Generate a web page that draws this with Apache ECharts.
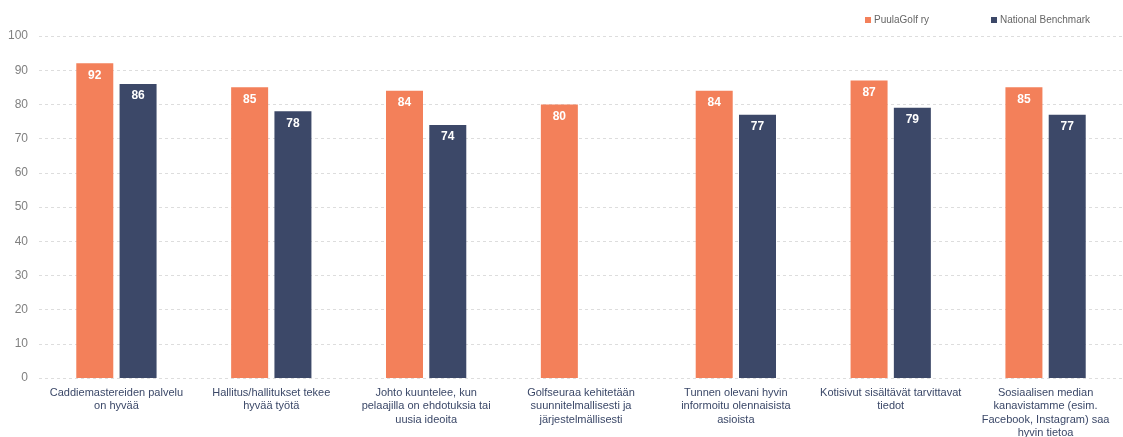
<!DOCTYPE html>
<html>
<head>
<meta charset="utf-8">
<script src="https://cdn.jsdelivr.net/npm/echarts@6/dist/echarts.min.js"></script>
<style>
html,body{margin:0;padding:0;background:#fff;}
#c{width:1123px;height:437px;}
</style>
</head>
<body>
<div id="c"></div>
<script>
const categories = [
  "Caddiemastereiden palvelu\non hyvää",
  "Hallitus/hallitukset tekee\nhyvää työtä",
  "Johto kuuntelee, kun\npelaajilla on ehdotuksia tai\nuusia ideoita",
  "Golfseuraa kehitetään\nsuunnitelmallisesti ja\njärjestelmällisesti",
  "Tunnen olevani hyvin\ninformoitu olennaisista\nasioista",
  "Kotisivut sisältävät tarvittavat\ntiedot",
  "Sosiaalisen median\nkanavistamme (esim.\nFacebook, Instagram) saa\nhyvin tietoa"
];
const puulaGolf = [92, 85, 84, 80, 84, 87, 85];
const benchmark = [86, 78, 74, null, 77, 79, 77];
const seriesNames = ["PuulaGolf ry", "National Benchmark"];
const yTicks = [0, 100, 10];

const chart = echarts.init(document.getElementById('c'), null, {renderer: 'canvas'});
const labelCfg = {
  show: true, position: 'insideTop', distance: 6,
  color: '#ffffff', fontWeight: 'bold', fontSize: 12,
  fontFamily: 'Liberation Sans, Arial, sans-serif'
};
chart.setOption({
  animation: false,
  backgroundColor: '#ffffff',
  textStyle: {fontFamily: 'Liberation Sans, Arial, sans-serif'},
  legend: {
    top: 10, left: 860,
    itemWidth: 6, itemHeight: 6, itemGap: 62,
    icon: 'rect',
    textStyle: {fontSize: 10, color: '#666666', padding: [0,0,0,-2]},
    data: seriesNames
  },
  grid: {left: 39, right: 0, top: 36, bottom: 59, containLabel: false, outerBoundsMode: 'none'},
  xAxis: {
    type: 'category',
    data: categories,
    axisLine: {show: false},
    axisTick: {show: false},
    axisLabel: {
      interval: 0, margin: 8, fontSize: 11, lineHeight: 13.5,
      color: '#3b4868'
    }
  },
  yAxis: {
    type: 'value',
    min: yTicks[0], max: yTicks[1], interval: yTicks[2],
    axisLine: {show: false},
    axisTick: {show: false},
    axisLabel: {fontSize: 12, color: '#808080', margin: 11},
    splitLine: {lineStyle: {type: [3, 3], color: '#dddddd', width: 1}}
  },
  series: [
    {
      name: seriesNames[0], type: 'bar', data: puulaGolf,
      barWidth: 37, barGap: '17%',
      itemStyle: {color: '#f3805a'},
      label: labelCfg
    },
    {
      name: seriesNames[1], type: 'bar', data: benchmark,
      barWidth: 37,
      itemStyle: {color: '#3c4868'},
      label: labelCfg
    }
  ]
});
</script>
</body>
</html>
